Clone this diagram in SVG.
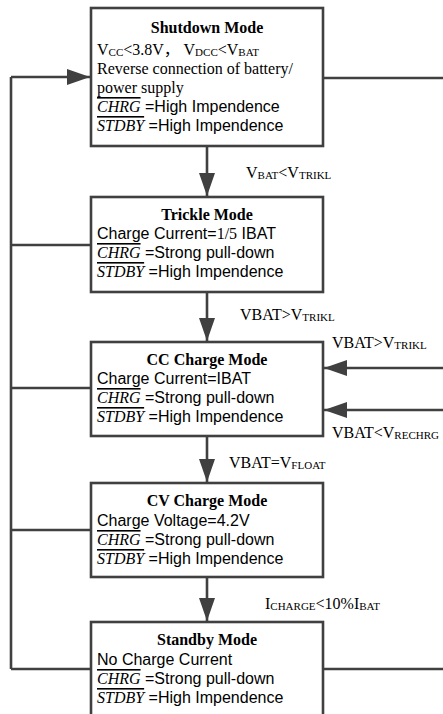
<svg xmlns="http://www.w3.org/2000/svg" width="443" height="714" viewBox="0 0 443 714">
<style>
.box{fill:#fff;stroke:#404040;stroke-width:2.6}
.ln{fill:none;stroke:#404040;stroke-width:2.6}
.ti{font-family:"Liberation Serif",serif;font-weight:bold;font-size:16px;fill:#000;text-anchor:middle}
.tm{font-family:"Liberation Serif","Noto Sans CJK SC",serif;font-size:16px;fill:#000}
.ar{font-family:"Liberation Sans",Arial,sans-serif;font-size:16px;fill:#000}
.it{font-family:"Liberation Serif",serif;font-style:italic;text-decoration:overline}
.sub{font-size:11px}
</style>
<defs>
<marker id="ah" markerUnits="userSpaceOnUse" markerWidth="24" markerHeight="16" refX="23" refY="8" orient="auto">
<path d="M0,0 L23,8 L0,16 z" fill="#404040"/>
</marker>
</defs>
<rect width="443" height="714" fill="#fff"/>
<g id="connectors">
<path class="ln" d="M11,77 V669" />
<path class="ln" d="M11,77 H90" marker-end="url(#ah)"/>
<path class="ln" d="M11,245 H91"/>
<path class="ln" d="M11,388 H91"/>
<path class="ln" d="M11,530 H91"/>
<path class="ln" d="M11,669 H91"/>
<path class="ln" d="M323,78 H443"/>
<path class="ln" d="M323,669 H443"/>
<path class="ln" d="M443,368 H324" marker-end="url(#ah)"/>
<path class="ln" d="M443,410 H324" marker-end="url(#ah)"/>
<path class="ln" d="M207,146 V196" marker-end="url(#ah)"/>
<path class="ln" d="M207,292 V341" marker-end="url(#ah)"/>
<path class="ln" d="M207,436 V482" marker-end="url(#ah)"/>
<path class="ln" d="M207,577 V621" marker-end="url(#ah)"/>
<text class="tm" x="246" y="178">V<tspan class="sub" dy="1">BAT</tspan><tspan dy="-1">&lt;V</tspan><tspan class="sub" dy="1">TRIKL</tspan></text>
<text class="tm" x="240" y="320">VBAT&gt;V<tspan class="sub" dy="1">TRIKL</tspan></text>
<text class="tm" x="332" y="348">VBAT&gt;V<tspan class="sub" dy="1">TRIKL</tspan></text>
<text class="tm" x="332" y="438">VBAT&lt;V<tspan class="sub" dy="1">RECHRG</tspan></text>
<text class="tm" x="229" y="468">VBAT=V<tspan class="sub" dy="1">FLOAT</tspan></text>
<text class="tm" x="265" y="609">I<tspan class="sub" dy="1">CHARGE</tspan><tspan dy="-1">&lt;10%I</tspan><tspan class="sub" dy="1">BAT</tspan></text>
</g>
<g id="shutdown">
<rect class="box" x="91" y="8" width="232" height="138"/>
<text class="ti" x="207" y="33">Shutdown Mode</text>
<text class="tm" x="97" y="55">V<tspan class="sub" dy="1">CC</tspan><tspan dy="-1">&lt;3.8V， V</tspan><tspan class="sub" dy="1">DCC</tspan><tspan dy="-1">&lt;V</tspan><tspan class="sub" dy="1">BAT</tspan></text>
<text class="tm" x="97" y="74">Reverse connection of battery/</text>
<text class="tm" x="97" y="93">power supply</text>
<text class="ar" x="97" y="112"><tspan class="it">CHRG</tspan> =High Impendence</text>
<text class="ar" x="97" y="131"><tspan class="it">STDBY</tspan> =High Impendence</text>
</g>
<g id="trickle">
<rect class="box" x="91" y="197" width="232" height="95"/>
<text class="ti" x="207" y="220">Trickle Mode</text>
<text class="ar" x="97" y="239">Charge Current=<tspan font-family="Liberation Serif">1/5</tspan> IBAT</text>
<text class="ar" x="97" y="258"><tspan class="it">CHRG</tspan> =Strong pull-down</text>
<text class="ar" x="97" y="277"><tspan class="it">STDBY</tspan> =High Impendence</text>
</g>
<g id="cc">
<rect class="box" x="91" y="342" width="232" height="94"/>
<text class="ti" x="207" y="365">CC Charge Mode</text>
<text class="ar" x="97" y="384">Charge Current=IBAT</text>
<text class="ar" x="97" y="403"><tspan class="it">CHRG</tspan> =Strong pull-down</text>
<text class="ar" x="97" y="422"><tspan class="it">STDBY</tspan> =High Impendence</text>
</g>
<g id="cv">
<rect class="box" x="91" y="483" width="232" height="94"/>
<text class="ti" x="207" y="506">CV Charge Mode</text>
<text class="ar" x="97" y="526">Charge Voltage=4.2V</text>
<text class="ar" x="97" y="545"><tspan class="it">CHRG</tspan> =Strong pull-down</text>
<text class="ar" x="97" y="564"><tspan class="it">STDBY</tspan> =High Impendence</text>
</g>
<g id="standby">
<rect class="box" x="91" y="622" width="232" height="100"/>
<text class="ti" x="207" y="645">Standby Mode</text>
<text class="ar" x="97" y="665">No Charge Current</text>
<text class="ar" x="97" y="684"><tspan class="it">CHRG</tspan> =Strong pull-down</text>
<text class="ar" x="97" y="703"><tspan class="it">STDBY</tspan> =High Impendence</text>
</g>
</svg>
